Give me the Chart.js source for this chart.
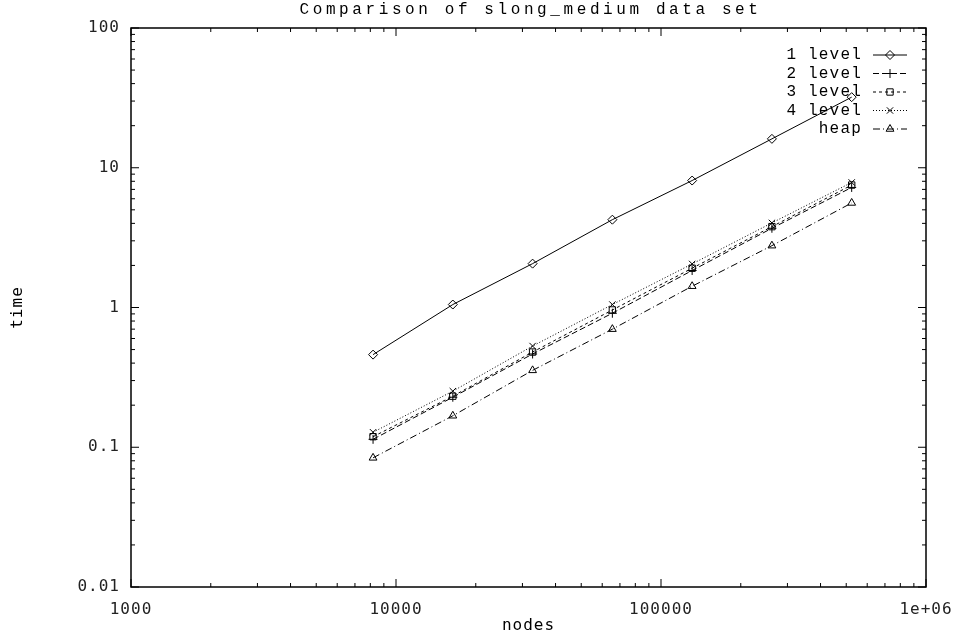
<!DOCTYPE html>
<html>
<head>
<meta charset="utf-8">
<script src="https://cdn.jsdelivr.net/npm/chart.js@4/dist/chart.umd.min.js"></script>
<style>
  html, body { margin: 0; padding: 0; background: #fff; }
  #wrap { width: 957px; height: 638px; position: relative; }
</style>
</head>
<body>
<div id="wrap"><canvas id="chart"></canvas></div>
<script>
// timings per data set size
const nodes = [8192, 16384, 32768, 65536, 131072, 262144, 524288];
const level1 = [0.46, 1.05, 2.06, 4.25, 8.1, 16.1, 32.0];
const level2 = [0.114, 0.228, 0.465, 0.91, 1.84, 3.69, 7.23];
const level3 = [0.119, 0.232, 0.48, 0.96, 1.91, 3.79, 7.52];
const level4 = [0.128, 0.252, 0.53, 1.05, 2.05, 4.03, 7.85];
const heap = [0.084, 0.168, 0.355, 0.70, 1.42, 2.77, 5.6];

const seriesNames = ['1 level', '2 level', '3 level', '4 level', 'heap'];

const xTickValues = [1000, 10000, 100000, 1000000];
const xTickLabels = ['1000', '10000', '100000', '1e+06'];
const yTickValues = [0.01, 0.1, 1, 10, 100];
const yTickLabels = ['0.01', '0.1', '1', '10', '100'];

const titleText = 'Comparison of slong_medium data set';
const xTitle = 'nodes';
const yTitle = 'time';

const monoSerif = '"Liberation Mono", "Courier New", monospace';
const monoSans = '"DejaVu Sans Mono", monospace';

function series(label, values, style, dash) {
   return {
      label: label,
      data: nodes.map((n, i) => ({ x: n, y: values[i] })),
      borderColor: '#000',
      borderWidth: 1,
      borderDash: dash,
      pointStyle: style,
      pointRadius: 4.5,
      pointBorderWidth: 1,
      pointBorderColor: '#000',
      pointBackgroundColor: 'rgba(0,0,0,0)',
      tension: 0
   };
}

// gnuplot style frame: border on all sides, inward major/minor ticks
const framePlugin = {
   id: 'frame',
   beforeDraw(chart) {
      chart.ctx.letterSpacing = '1px';
   },
   afterDatasetsDraw(chart) {
      const ctx = chart.ctx;
      const a = chart.chartArea;
      const xs = chart.scales.x, ys = chart.scales.y;
      ctx.save();
      ctx.letterSpacing = '0px';
      ctx.strokeStyle = '#000';
      ctx.lineWidth = 1.5;
      ctx.strokeRect(a.left, a.top, a.right - a.left, a.bottom - a.top);
      ctx.lineWidth = 1;
      ctx.beginPath();
      const tick = (scale, v, len) => {
         const p = scale.getPixelForValue(v);
         if (scale === xs) {
            ctx.moveTo(p, a.bottom); ctx.lineTo(p, a.bottom - len);
            ctx.moveTo(p, a.top); ctx.lineTo(p, a.top + len);
         } else {
            ctx.moveTo(a.left, p); ctx.lineTo(a.left + len, p);
            ctx.moveTo(a.right, p); ctx.lineTo(a.right - len, p);
         }
      };
      [[xs, 1000, 1000000], [ys, 0.01, 100]].forEach(([scale, lo, hi]) => {
         for (let d = lo; d < hi * 1.001; d *= 10) {
            tick(scale, d, 8);
            if (d < hi * 0.999) {
               for (let m = 2; m <= 9; m++) tick(scale, d * m, 4);
            }
         }
      });
      ctx.stroke();
      ctx.restore();
   },
   afterDraw(chart) {
      const ctx = chart.ctx;
      const a = chart.chartArea;
      const cx = (a.left + a.right) / 2;
      ctx.save();
      ctx.fillStyle = '#000';
      ctx.textBaseline = 'middle';

      // title
      ctx.letterSpacing = '3.6px';
      ctx.font = '16px ' + monoSerif;
      ctx.textAlign = 'center';
      ctx.fillText(titleText, cx + 2, 10);

      // axis titles
      ctx.letterSpacing = '1px';
      ctx.font = '16px ' + monoSans;
      ctx.fillText(xTitle, cx, 626);
      ctx.save();
      ctx.translate(18, (a.top + a.bottom) / 2);
      ctx.rotate(-Math.PI / 2);
      ctx.fillText(yTitle, 0, 0);
      ctx.restore();

      // key
      ctx.letterSpacing = '1.2px';
      ctx.font = '16px ' + monoSerif;
      ctx.textAlign = 'right';
      chart.data.datasets.forEach((ds, i) => {
         const y = 55 + i * 18.5;
         ctx.fillStyle = '#000';
         ctx.fillText(ds.label, 862, y);
         ctx.save();
         ctx.strokeStyle = '#000';
         ctx.fillStyle = 'rgba(0,0,0,0)';
         ctx.lineWidth = 1;
         ctx.setLineDash(ds.borderDash || []);
         ctx.beginPath();
         ctx.moveTo(873, y);
         ctx.lineTo(907, y);
         ctx.stroke();
         ctx.setLineDash([]);
         Chart.helpers.drawPoint(ctx, {
            pointStyle: ds.pointStyle, radius: 4.5, rotation: 0, borderWidth: 1
         }, 890, y);
         ctx.restore();
      });
      ctx.restore();
   }
};

new Chart(document.getElementById('chart'), {
   type: 'line',
   data: {
      datasets: [
         series(seriesNames[0], level1, 'rectRot', []),
         series(seriesNames[1], level2, 'cross', [6, 3]),
         series(seriesNames[2], level3, 'rect', [3, 3]),
         series(seriesNames[3], level4, 'crossRot', [1, 2]),
         series(seriesNames[4], heap, 'triangle', [7, 3, 1, 3])
      ]
   },
   options: {
      responsive: true,
      maintainAspectRatio: false,
      animation: false,
      layout: { padding: { left: 0, top: 28, right: 31, bottom: 0 } },
      plugins: {
         legend: { display: false },
         title: { display: false },
         tooltip: { enabled: false }
      },
      scales: {
         x: {
            type: 'logarithmic',
            min: 1000,
            max: 1000000,
            afterBuildTicks: scale => { scale.ticks = xTickValues.map(v => ({ value: v })); },
            afterFit: scale => {
               scale.height = 51;
               scale.paddingLeft = 0;
               scale.paddingRight = 0;
            },
            grid: { display: false, drawTicks: false },
            border: { display: false },
            ticks: {
               autoSkip: false,
               maxRotation: 0,
               padding: 13,
               color: '#222',
               font: { family: monoSans, size: 16 },
               callback: v => xTickLabels[xTickValues.indexOf(v)] ?? ''
            }
         },
         y: {
            type: 'logarithmic',
            min: 0.01,
            max: 100,
            afterBuildTicks: scale => { scale.ticks = yTickValues.map(v => ({ value: v })); },
            afterFit: scale => {
               scale.width = 131;
               scale.paddingTop = 0;
               scale.paddingBottom = 0;
            },
            grid: { display: false, drawTicks: false },
            border: { display: false },
            ticks: {
               autoSkip: false,
               padding: 11,
               color: '#222',
               font: { family: monoSans, size: 16 },
               callback: v => yTickLabels[yTickValues.indexOf(v)] ?? ''
            }
         }
      }
   },
   plugins: [framePlugin]
});
</script>
</body>
</html>
